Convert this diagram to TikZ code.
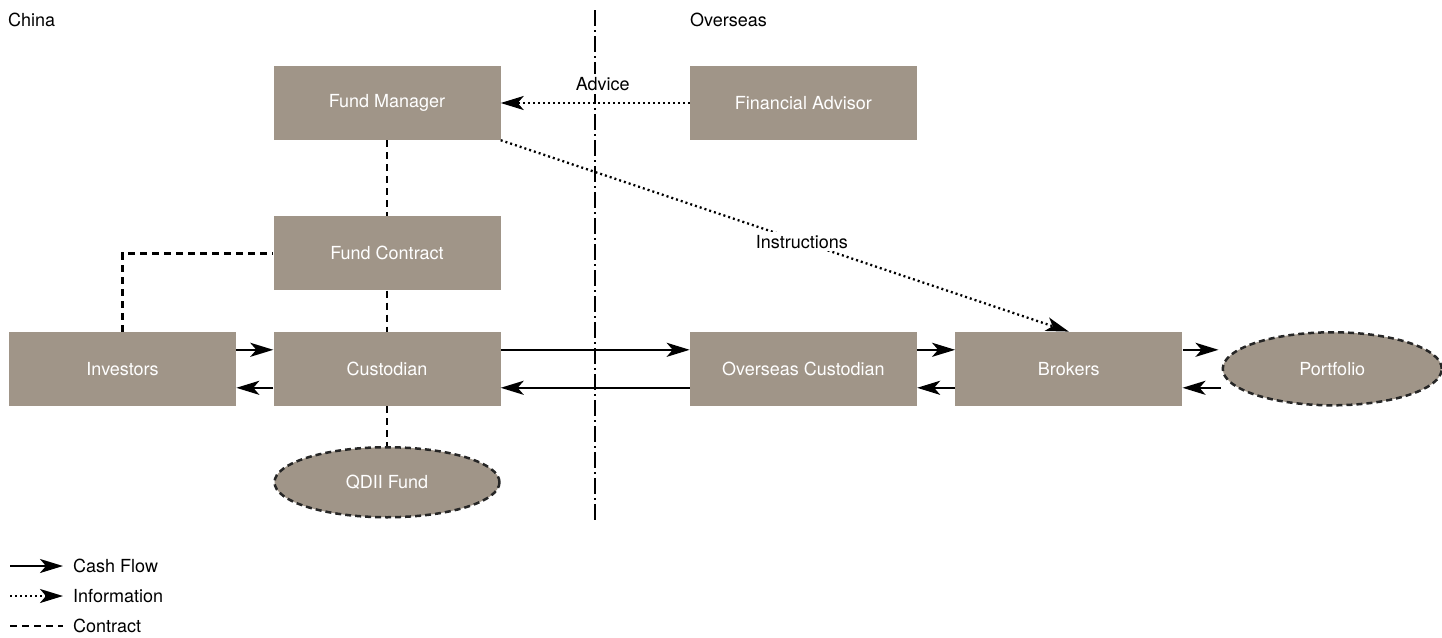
\documentclass[tikz,border=0pt]{standalone}
\usepackage{fontspec}
\setmainfont{TeX Gyre Heros}
\usetikzlibrary{arrows.meta,positioning,shapes.geometric}

\definecolor{boxgrey}{RGB}{160,149,136}

\begin{document}
\begin{tikzpicture}[
  x=1pt, y=-1pt,
  font=\fontsize{18}{22}\selectfont,
  >={Stealth[length=23pt,width=14pt,inset=6pt]},
  party/.style={fill=boxgrey, text=white, minimum width=227pt, minimum height=74pt, inner sep=0pt},
  pool/.style={ellipse, fill=boxgrey, text=white, draw=black!85, line width=2.5pt, dash pattern=on 6pt off 4pt, inner sep=0pt},
  cash/.style={->, line width=2.4pt},
  info/.style={->, line width=2.3pt, dash pattern=on 2pt off 3pt},
  contract/.style={line width=2.4pt, dash pattern=on 7pt off 5pt},
  region/.style={anchor=west, inner sep=0pt},
  key/.style={anchor=west, inner sep=0pt}
]
\useasboundingbox (0,0) rectangle (1442,637);

% parties in China
\node[party] (fm) at (387,103) {Fund Manager};
\node[party, below=76pt of fm] (fc) {Fund Contract};
\node[party, below=41pt of fc] (cust) {Custodian};
\node[party, left=37pt of cust] (inv) {Investors};
\node[pool, minimum width=225pt, minimum height=70pt, below=40pt of cust] (qdii) {QDII Fund};

% parties overseas
\node[party, right=189pt of fm] (fa) {Financial Advisor};
\node[party, right=189pt of cust] (ocust) {Overseas Custodian};
\node[party, right=38pt of ocust] (brk) {Brokers};
\node[pool, minimum width=219pt, minimum height=73pt, right=39pt of brk] (port) {Portfolio};

% border between the two regions
\coordinate (bt) at (595,10);
\coordinate (bb) at (595,520);
\draw[line width=2.2pt, dash pattern=on 16pt off 4pt on 2pt off 4pt] (bt) -- (bb);
\node[region] (china) at (8,20) {China};
\node[region] (abroad) at (690,20) {Overseas};

% contracts
\draw[contract] (fm) -- (fc);
\draw[contract] (fc) -- (cust);
\draw[contract] (cust) -- (qdii);
\draw[contract] (inv.north) |- (fc.west);

% cash flows
\draw[cash] ([yshift=19pt]inv.east) -- ([yshift=19pt]cust.west);
\draw[cash] ([yshift=-19pt]cust.west) -- ([yshift=-19pt]inv.east);
\draw[cash] ([yshift=19pt]cust.east) -- ([yshift=19pt]ocust.west);
\draw[cash] ([yshift=-19pt]ocust.west) -- ([yshift=-19pt]cust.east);
\draw[cash] ([yshift=19pt]ocust.east) -- ([yshift=19pt]brk.west);
\draw[cash] ([yshift=-19pt]brk.west) -- ([yshift=-19pt]ocust.east);
\draw[cash] ([yshift=19pt]brk.east) -- ([yshift=19pt, xshift=-3pt]port.west);
\draw[cash] ([yshift=-19pt, xshift=-1pt]port.west) -- ([yshift=-19pt]brk.east);

% information
\draw[info] (fa) -- node[pos=0.46, above=8pt, fill=white, inner sep=3pt] (advice) {Advice} (fm);
\draw[info] (fm.south east) -- node[pos=0.53, fill=white, inner sep=3pt] (instr) {Instructions} (brk.north);

% legend
\coordinate (k1a) at (10,566);  \coordinate (k1b) at (63,566);
\coordinate (k2a) at (10,596);  \coordinate (k2b) at (63,596);
\coordinate (k3a) at (10,626);  \coordinate (k3b) at (63,626);
\draw[cash] (k1a) -- (k1b);
\draw[info] (k2a) -- (k2b);
\draw[contract] (k3a) -- (k3b);
\node[key] (kcash) at (73,566) {Cash Flow};
\node[key] (kinfo) at (73,596) {Information};
\node[key] (kcontract) at (73,626) {Contract};

\end{tikzpicture}
\end{document}
